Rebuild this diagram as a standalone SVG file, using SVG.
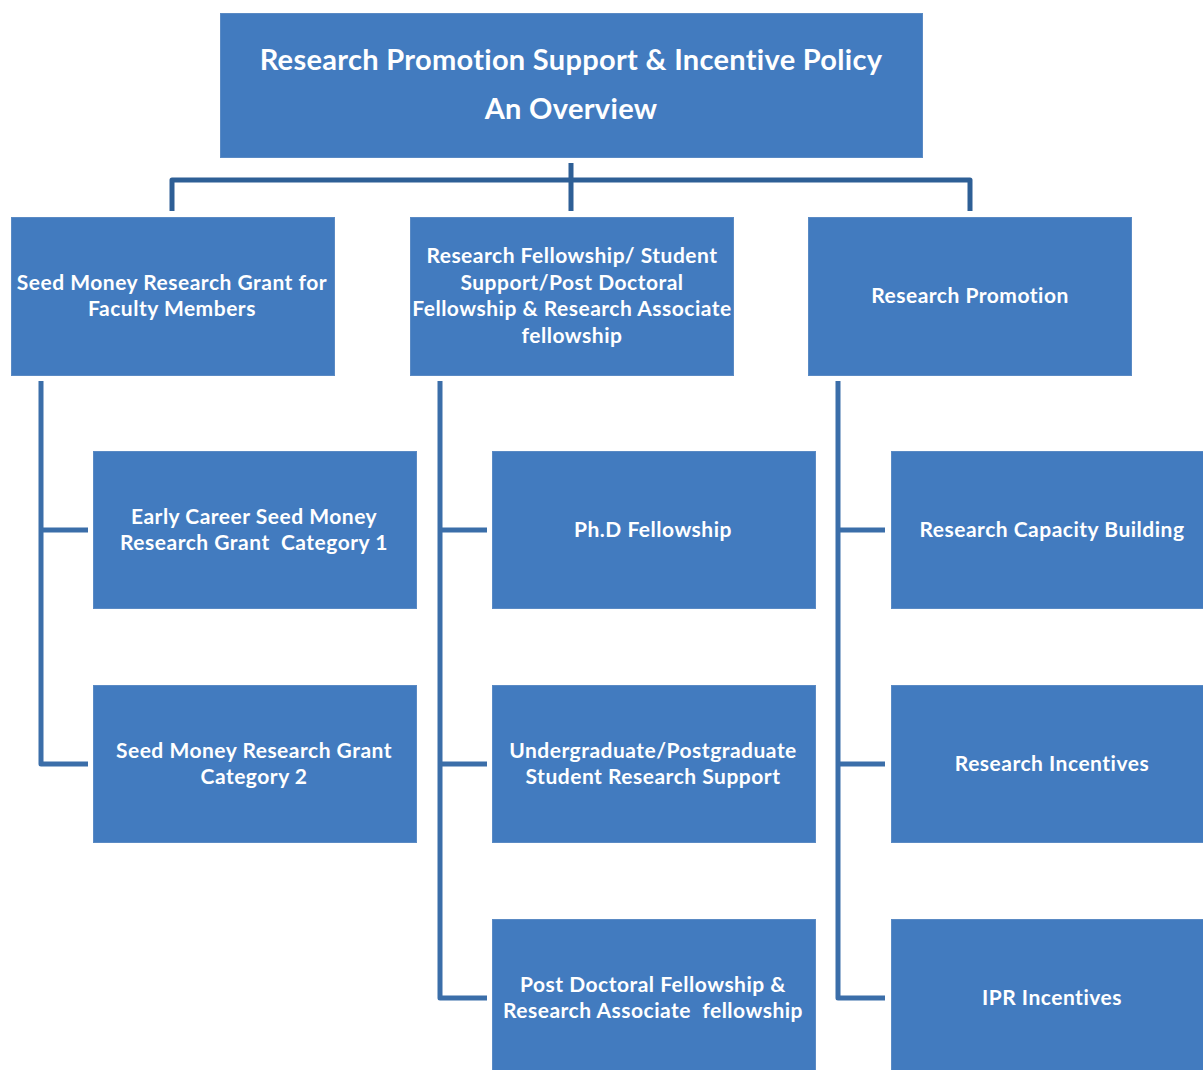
<svg xmlns="http://www.w3.org/2000/svg" width="1203" height="1070" viewBox="0 0 1203 1070">
<style>
.box{fill:#427bbf;stroke:#5a8ac4;stroke-width:1}
.t{font-family:Lato,"Liberation Sans",sans-serif;font-weight:bold;fill:#fff;text-anchor:middle;font-size:21px;letter-spacing:0.5px;white-space:pre}
.tt{font-size:29px;letter-spacing:0.3px}
.c{fill:none;stroke-width:5;stroke-linejoin:round}
.c1{stroke:#2e5f96}
.c2{stroke:#3b6ea9}
</style>
<rect width="1203" height="1070" fill="#fff"/>
<g id="connectors">
<path class="c c1" d="M571 163V211M172 211V180H970V211"/>
<path class="c c2" d="M41 381V764H88M41 530H88"/>
<path class="c c2" d="M440 381V998H487M440 530H487M440 764H487"/>
<path class="c c2" d="M838 381V998H885M838 530H885M838 764H885"/>
</g>
<g id="root"><rect class="box" x="220.5" y="13.5" width="702" height="144"/>
<text class="t tt" x="571" y="70">Research Promotion Support &amp; Incentive Policy</text>
<text class="t tt" x="571" y="119">An Overview</text></g>
<g id="seed"><rect class="box" x="11.5" y="217.5" width="323" height="158"/>
<text class="t" x="172" y="290">Seed Money Research Grant for</text>
<text class="t" x="172" y="316">Faculty Members</text></g>
<g id="fellowship"><rect class="box" x="410.5" y="217.5" width="323" height="158"/>
<text class="t" x="572" y="263">Research Fellowship/ Student</text>
<text class="t" x="572" y="290">Support/Post Doctoral</text>
<text class="t" x="572" y="316">Fellowship &amp; Research Associate</text>
<text class="t" x="572" y="343">fellowship</text></g>
<g id="promotion"><rect class="box" x="808.5" y="217.5" width="323" height="158"/>
<text class="t" x="970" y="303">Research Promotion</text></g>
<g id="early"><rect class="box" x="93.5" y="451.5" width="323" height="157"/>
<text class="t" x="254" y="524">Early Career Seed Money</text>
<text class="t" x="254" y="550" xml:space="preserve">Research Grant  Category 1</text></g>
<g id="cat2"><rect class="box" x="93.5" y="685.5" width="323" height="157"/>
<text class="t" x="254" y="758">Seed Money Research Grant</text>
<text class="t" x="254" y="784">Category 2</text></g>
<g id="phd"><rect class="box" x="492.5" y="451.5" width="323" height="157"/>
<text class="t" x="653" y="537">Ph.D Fellowship</text></g>
<g id="ugpg"><rect class="box" x="492.5" y="685.5" width="323" height="157"/>
<text class="t" x="653" y="758">Undergraduate/Postgraduate</text>
<text class="t" x="653" y="784">Student Research Support</text></g>
<g id="postdoc"><rect class="box" x="492.5" y="919.5" width="323" height="160"/>
<text class="t" x="653" y="992">Post Doctoral Fellowship &amp;</text>
<text class="t" x="653" y="1018" xml:space="preserve">Research Associate  fellowship</text></g>
<g id="capacity"><rect class="box" x="891.5" y="451.5" width="323" height="157"/>
<text class="t" x="1052" y="537">Research Capacity Building</text></g>
<g id="incentives"><rect class="box" x="891.5" y="685.5" width="323" height="157"/>
<text class="t" x="1052" y="771">Research Incentives</text></g>
<g id="ipr"><rect class="box" x="891.5" y="919.5" width="323" height="160"/>
<text class="t" x="1052" y="1005">IPR Incentives</text></g>
</svg>
